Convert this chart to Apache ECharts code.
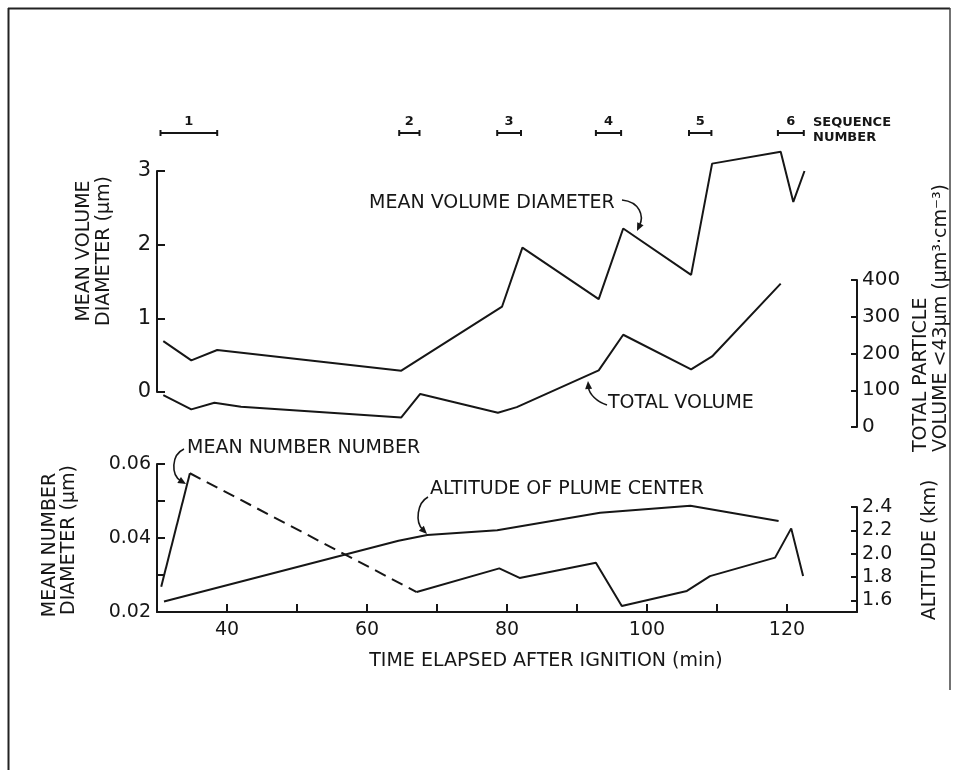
<!DOCTYPE html>
<html>
<head>
<meta charset="utf-8">
<script src="https://cdn.jsdelivr.net/npm/echarts@6/dist/echarts.min.js"></script>
<style>
  html, body { margin: 0; padding: 0; background: #fff; }
  #chart { width: 958px; height: 770px; }
</style>
</head>
<body>
<div id="chart"></div>
<script>
// Time base, minutes after ignition
const timeMin = 30;
const timeMax = 130;
const xTickLabels = [40, 60, 80, 100, 120];

// Mean volume diameter (µm)
const mvdTime  = [30.9, 34.9, 38.6, 64.9, 79.3, 82.2, 93.1, 96.6, 106.3, 109.3, 119.1, 120.9, 122.5];
const mvdValue = [0.69, 0.43, 0.57, 0.29, 1.16, 1.96, 1.26, 2.22, 1.59, 3.10, 3.26, 2.58, 3.00];

// Total particle volume < 43 µm (µm³·cm⁻³)
const tvTime  = [30.9, 34.9, 38.2, 42.0, 64.9, 67.6, 78.7, 81.4, 93.1, 96.6, 106.3, 109.3, 119.1];
const tvValue = [87, 48, 66, 55, 26, 90, 39, 54, 154, 251, 157, 192, 390];

// Mean number diameter (µm); the stretch after index mndDashedFrom is dashed
const mndTime  = [30.6, 34.7, 67.1, 78.9, 81.8, 92.7, 96.4, 105.7, 109.0, 118.3, 120.6, 122.3];
const mndValue = [0.0268, 0.0575, 0.0254, 0.0318, 0.0292, 0.0333, 0.0216, 0.0257, 0.0297, 0.0347, 0.0426, 0.0297];
const mndDashedFrom = 1;

// Altitude of plume center (km)
const altTime  = [31.0, 64.5, 68.6, 78.6, 93.3, 106.2, 118.8];
const altValue = [1.59, 2.11, 2.16, 2.20, 2.35, 2.41, 2.28];

// Sampling sequences
const seqLabel = ['1', '2', '3', '4', '5', '6'];
const seqStart = [30.5, 64.6, 78.6, 92.7, 106.0, 118.7];
const seqEnd   = [38.6, 67.5, 82.0, 96.3, 109.2, 122.4];

// Axis tick values
const altTicks = [1.6, 1.8, 2.0, 2.2, 2.4];

const INK = '#161616';
const FONT = '"DejaVu Sans", "Liberation Sans", sans-serif';

const zip = (xs, ys) => xs.map((x, i) => [x, ys[i]]);

const chart = echarts.init(document.getElementById('chart'), null, { renderer: 'canvas' });

const L = 157, W = 700;

function xAxisFor(gridIndex, visible) {
  return {
    type: 'value', gridIndex, min: timeMin, max: timeMax,
    show: visible, interval: 10,
    axisLine: { show: visible, lineStyle: { color: INK, width: 2 } },
    axisTick: { show: visible, inside: true, length: 8, lineStyle: { color: INK, width: 2 } },
    axisLabel: {
      show: visible, color: INK, fontFamily: FONT, fontSize: 19, margin: 9,
      formatter: v => (xTickLabels.indexOf(v) >= 0 ? String(v) : '')
    },
    splitLine: { show: false }
  };
}

function yAxisFor(gridIndex, position, extra) {
  return Object.assign({
    type: 'value', gridIndex, position,
    axisLine: { show: true, onZero: false, lineStyle: { color: INK, width: 2 } },
    axisTick: { show: true, inside: true, length: position === 'left' ? 8 : 6, lineStyle: { color: INK, width: 2 } },
    axisLabel: { color: INK, fontFamily: FONT, fontSize: 19, margin: 5 },
    splitLine: { show: false }
  }, extra);
}

function lineSeries(name, xi, yi, data, dashed) {
  return {
    name, type: 'line', xAxisIndex: xi, yAxisIndex: yi, data,
    symbol: 'none', clip: false, silent: true, animation: false,
    lineStyle: { color: INK, width: 2, type: dashed ? [12, 7] : 'solid' }
  };
}

function arrow(x1, y1, c1x, c1y, c2x, c2y, x2, y2) {
  const dx = x2 - c2x, dy = y2 - c2y;
  const d = Math.hypot(dx, dy) || 1;
  const ux = dx / d, uy = dy / d;
  const len = 8, half = 3.5;
  const bx = x2 - ux * len, by = y2 - uy * len;
  return [
    { type: 'bezierCurve', silent: true,
      shape: { x1, y1, cpx1: c1x, cpy1: c1y, cpx2: c2x, cpy2: c2y, x2: bx + ux * 2, y2: by + uy * 2 },
      style: { stroke: INK, lineWidth: 1.6, fill: null } },
    { type: 'polygon', silent: true,
      shape: { points: [[x2, y2], [bx - uy * half, by + ux * half], [bx + uy * half, by - ux * half]] },
      style: { fill: INK } }
  ];
}

function label(text, x, y, opts) {
  opts = opts || {};
  return {
    type: 'text', x, y, rotation: opts.rotation || 0, silent: true,
    style: {
      text, fill: INK, fontFamily: FONT, fontSize: opts.size || 19,
      fontWeight: opts.weight || 'normal',
      textAlign: opts.align || 'left', textVerticalAlign: 'middle'
    }
  };
}

const V = Math.PI / 2;

const graphics = [
  // frame
  { type: 'line', silent: true, shape: { x1: 8.5, y1: 8, x2: 8.5, y2: 770 }, style: { stroke: '#222', lineWidth: 2 } },
  { type: 'line', silent: true, shape: { x1: 8, y1: 8.5, x2: 950, y2: 8.5 }, style: { stroke: '#222', lineWidth: 2 } },
  { type: 'line', silent: true, shape: { x1: 950, y1: 8, x2: 950, y2: 690 }, style: { stroke: '#444', lineWidth: 1.5 } },

  // axis titles
  label('MEAN VOLUME', 84, 251, { rotation: V, align: 'center' }),
  label('DIAMETER (\u03bcm)', 104, 251, { rotation: V, align: 'center' }),
  label('TOTAL PARTICLE', 921, 452, { rotation: V, align: 'left' }),
  label('VOLUME <43\u03bcm (\u03bcm\u00b3\u00b7cm\u207b\u00b3)', 941, 452, { rotation: V, align: 'left' }),
  label('MEAN NUMBER', 50, 545, { rotation: V, align: 'center' }),
  label('DIAMETER (\u03bcm)', 69, 540, { rotation: V, align: 'center' }),
  label('ALTITUDE (km)', 930, 550, { rotation: V, align: 'center' }),
  label('TIME ELAPSED AFTER IGNITION (min)', 546, 661, { align: 'center' }),

  // sequence caption
  label('SEQUENCE', 813, 123, { size: 13, weight: 'bold' }),
  label('NUMBER', 813, 138, { size: 13, weight: 'bold' }),

  // curve annotations
  label('MEAN VOLUME DIAMETER', 369, 203),
  label('TOTAL VOLUME', 608, 403),
  label('MEAN NUMBER NUMBER', 187, 448),
  label('ALTITUDE OF PLUME CENTER', 430, 489)
]
  .concat(arrow(622, 200, 640, 202, 644, 216, 637, 231))
  .concat(arrow(607, 405, 597, 402, 589, 394, 588, 381))
  .concat(arrow(184, 449, 171, 455, 171, 475, 186, 484))
  .concat(arrow(428, 497, 417, 503, 415, 522, 427, 534));

const option = {
  backgroundColor: '#fff',
  animation: false,
  grid: [
    { left: L, width: W, top: 171, height: 221 },   // mean volume diameter
    { left: L, width: W, top: 280, height: 147 },   // total volume
    { left: L, width: W, top: 464, height: 148 },   // mean number diameter
    { left: L, width: W, top: 507, height: 105 },   // altitude
    { left: L, width: W, top: 113, height: 40 }     // sequence bars
  ],
  xAxis: [xAxisFor(0, false), xAxisFor(1, false), xAxisFor(2, true), xAxisFor(3, false), xAxisFor(4, false)],
  yAxis: [
    yAxisFor(0, 'left', { min: 0, max: 3, interval: 1,
      axisLabel: { color: INK, fontFamily: FONT, fontSize: 21, margin: 6 } }),
    yAxisFor(1, 'right', { min: 0, max: 400, interval: 100,
      axisLabel: { color: INK, fontFamily: FONT, fontSize: 20, margin: 5 } }),
    yAxisFor(2, 'left', { min: 0.02, max: 0.06, interval: 0.01,
      axisLabel: { color: INK, fontFamily: FONT, fontSize: 19, margin: 6,
        formatter: v => (Math.round(v * 100) % 2 === 0 ? v.toFixed(2) : '') } }),
    yAxisFor(3, 'right', { min: 1.5, max: 2.4,
      axisTick: { show: true, inside: true, length: 6, customValues: altTicks, lineStyle: { color: INK, width: 2 } },
      axisLabel: { color: INK, fontFamily: FONT, fontSize: 19, margin: 5, customValues: altTicks,
        formatter: v => v.toFixed(1) } }),
    { type: 'value', gridIndex: 4, min: -1, max: 1, show: false }
  ],
  series: [
    lineSeries('Mean volume diameter', 0, 0, zip(mvdTime, mvdValue)),
    lineSeries('Total volume', 1, 1, zip(tvTime, tvValue)),
    lineSeries('Mean number diameter', 2, 2, zip(mndTime, mndValue).slice(0, mndDashedFrom + 1)),
    lineSeries('Mean number diameter (gap)', 2, 2, zip(mndTime, mndValue).slice(mndDashedFrom, mndDashedFrom + 2), true),
    lineSeries('Mean number diameter (late)', 2, 2, zip(mndTime, mndValue).slice(mndDashedFrom + 1)),
    lineSeries('Altitude of plume center', 3, 3, zip(altTime, altValue)),
    {
      name: 'Sequence', type: 'custom', xAxisIndex: 4, yAxisIndex: 4, silent: true, clip: false,
      data: seqStart.map((s, i) => [s, seqEnd[i], 0]),
      encode: { x: [0, 1], y: 2 },
      renderItem: (params, api) => {
        const a = api.coord([api.value(0), 0]);
        const b = api.coord([api.value(1), 0]);
        const cap = 3;
        const st = { stroke: INK, lineWidth: 2 };
        return {
          type: 'group',
          children: [
            { type: 'line', shape: { x1: a[0], y1: a[1], x2: b[0], y2: b[1] }, style: st },
            { type: 'line', shape: { x1: a[0], y1: a[1] - cap, x2: a[0], y2: a[1] + cap }, style: st },
            { type: 'line', shape: { x1: b[0], y1: b[1] - cap, x2: b[0], y2: b[1] + cap }, style: st },
            { type: 'text', x: (a[0] + b[0]) / 2, y: a[1] - 11,
              style: { text: seqLabel[params.dataIndex], fill: INK, fontFamily: FONT,
                       fontSize: 13, fontWeight: 'bold', textAlign: 'center', textVerticalAlign: 'middle' } }
          ]
        };
      }
    }
  ],
  graphic: { elements: graphics }
};

chart.setOption(option);
</script>
</body>
</html>
